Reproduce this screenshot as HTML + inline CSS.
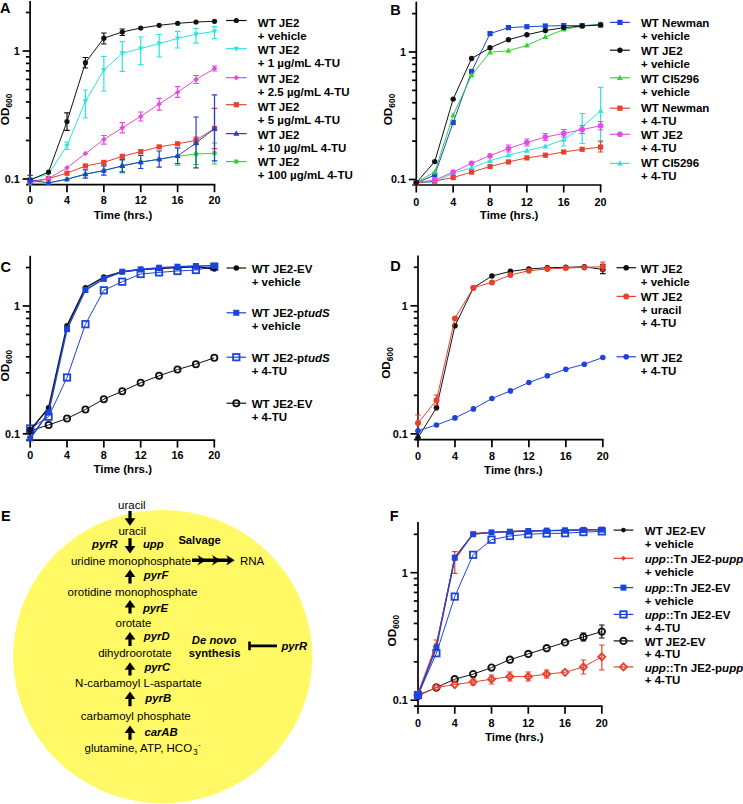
<!DOCTYPE html>
<html><head><meta charset="utf-8"><style>
html,body{margin:0;padding:0;background:#fff;width:743px;height:804px;overflow:hidden}
svg{display:block;font-family:"Liberation Sans", sans-serif}
text{fill:#000}
</style></head><body>
<svg width="743" height="804" viewBox="0 0 743 804">
<rect width="743" height="804" fill="#fff"/>
<line x1="30.1" y1="1" x2="30.1" y2="185.55" stroke="#000" stroke-width="1.7"/>
<line x1="26.1" y1="184.7" x2="215.35" y2="184.7" stroke="#000" stroke-width="1.7"/>
<line x1="22.6" y1="179" x2="30.1" y2="179" stroke="#000" stroke-width="1.7"/>
<line x1="25.9" y1="140.47" x2="30.1" y2="140.47" stroke="#000" stroke-width="1.7"/>
<line x1="25.9" y1="117.93" x2="30.1" y2="117.93" stroke="#000" stroke-width="1.7"/>
<line x1="25.9" y1="101.94" x2="30.1" y2="101.94" stroke="#000" stroke-width="1.7"/>
<line x1="25.9" y1="89.53" x2="30.1" y2="89.53" stroke="#000" stroke-width="1.7"/>
<line x1="25.9" y1="79.4" x2="30.1" y2="79.4" stroke="#000" stroke-width="1.7"/>
<line x1="25.9" y1="70.83" x2="30.1" y2="70.83" stroke="#000" stroke-width="1.7"/>
<line x1="25.9" y1="63.4" x2="30.1" y2="63.4" stroke="#000" stroke-width="1.7"/>
<line x1="25.9" y1="56.86" x2="30.1" y2="56.86" stroke="#000" stroke-width="1.7"/>
<line x1="22.6" y1="51" x2="30.1" y2="51" stroke="#000" stroke-width="1.7"/>
<line x1="25.9" y1="12.47" x2="30.1" y2="12.47" stroke="#000" stroke-width="1.7"/>
<line x1="30.1" y1="184.7" x2="30.1" y2="192.2" stroke="#000" stroke-width="1.7"/>
<text x="30.1" y="204.3" font-size="10.8" font-weight="bold" font-style="normal" text-anchor="middle" >0</text>
<line x1="66.98" y1="184.7" x2="66.98" y2="192.2" stroke="#000" stroke-width="1.7"/>
<text x="66.98" y="204.3" font-size="10.8" font-weight="bold" font-style="normal" text-anchor="middle" >4</text>
<line x1="103.86" y1="184.7" x2="103.86" y2="192.2" stroke="#000" stroke-width="1.7"/>
<text x="103.86" y="204.3" font-size="10.8" font-weight="bold" font-style="normal" text-anchor="middle" >8</text>
<line x1="140.74" y1="184.7" x2="140.74" y2="192.2" stroke="#000" stroke-width="1.7"/>
<text x="140.74" y="204.3" font-size="10.8" font-weight="bold" font-style="normal" text-anchor="middle" >12</text>
<line x1="177.62" y1="184.7" x2="177.62" y2="192.2" stroke="#000" stroke-width="1.7"/>
<text x="177.62" y="204.3" font-size="10.8" font-weight="bold" font-style="normal" text-anchor="middle" >16</text>
<line x1="214.5" y1="184.7" x2="214.5" y2="192.2" stroke="#000" stroke-width="1.7"/>
<text x="214.5" y="204.3" font-size="10.8" font-weight="bold" font-style="normal" text-anchor="middle" >20</text>
<text x="19.8" y="54.9" font-size="10.8" font-weight="bold" font-style="normal" text-anchor="end" >1</text>
<text x="19.8" y="182.9" font-size="10.8" font-weight="bold" font-style="normal" text-anchor="end" >0.1</text>
<text x="123" y="218.6" font-size="11.5" font-weight="bold" font-style="normal" text-anchor="middle" >Time (hrs.)</text>
<text transform="translate(8.5,109.4) rotate(-90)" font-size="11.8" font-weight="bold" text-anchor="middle">OD<tspan font-size="8.4" dy="3">600</tspan></text>
<text x="0" y="12.7" font-size="14.5" font-weight="bold" font-style="normal" text-anchor="start" >A</text>
<polyline points="30.1,183.5 48.54,183 66.98,179.4 85.42,174.3 103.86,170.7 122.3,166 140.74,162.2 159.18,159.4 177.62,156.1 196.06,154.1 214.5,153.2" fill="none" stroke="#2ed62e" stroke-width="1.0"/>
<path d="M122.3 160V172.8M119.55 160H125.05M119.55 172.8H125.05" stroke="#2ed62e" stroke-width="1.2" fill="none"/>
<path d="M177.62 148V165.1M174.87 148H180.37M174.87 165.1H180.37" stroke="#2ed62e" stroke-width="1.2" fill="none"/>
<path d="M196.06 143.8V164.5M193.31 143.8H198.81M193.31 164.5H198.81" stroke="#2ed62e" stroke-width="1.2" fill="none"/>
<path d="M214.5 143V164M211.75 143H217.25M211.75 164H217.25" stroke="#2ed62e" stroke-width="1.2" fill="none"/>
<circle cx="30.1" cy="183.5" r="2.4" fill="#2ed62e"/>
<circle cx="48.54" cy="183" r="2.4" fill="#2ed62e"/>
<circle cx="66.98" cy="179.4" r="2.4" fill="#2ed62e"/>
<circle cx="85.42" cy="174.3" r="2.4" fill="#2ed62e"/>
<circle cx="103.86" cy="170.7" r="2.4" fill="#2ed62e"/>
<circle cx="122.3" cy="166" r="2.4" fill="#2ed62e"/>
<circle cx="140.74" cy="162.2" r="2.4" fill="#2ed62e"/>
<circle cx="159.18" cy="159.4" r="2.4" fill="#2ed62e"/>
<circle cx="177.62" cy="156.1" r="2.4" fill="#2ed62e"/>
<circle cx="196.06" cy="154.1" r="2.4" fill="#2ed62e"/>
<circle cx="214.5" cy="153.2" r="2.4" fill="#2ed62e"/>
<polyline points="30.1,181.5 48.54,178.6 66.98,173.2 85.42,166 103.86,162.4 122.3,156.3 140.74,151.6 159.18,146.9 177.62,143.8 196.06,140.3 214.5,128.5" fill="none" stroke="#e8402e" stroke-width="1.0"/>
<path d="M214.5 108.3V148.7M211.75 108.3H217.25M211.75 148.7H217.25" stroke="#e8402e" stroke-width="1.2" fill="none"/>
<path d="M196.06 137V144M193.31 137H198.81M193.31 144H198.81" stroke="#e8402e" stroke-width="1.2" fill="none"/>
<rect x="27.5" y="178.9" width="5.2" height="5.2" fill="#e8402e"/>
<rect x="45.94" y="176" width="5.2" height="5.2" fill="#e8402e"/>
<rect x="64.38" y="170.6" width="5.2" height="5.2" fill="#e8402e"/>
<rect x="82.82" y="163.4" width="5.2" height="5.2" fill="#e8402e"/>
<rect x="101.26" y="159.8" width="5.2" height="5.2" fill="#e8402e"/>
<rect x="119.7" y="153.7" width="5.2" height="5.2" fill="#e8402e"/>
<rect x="138.14" y="149" width="5.2" height="5.2" fill="#e8402e"/>
<rect x="156.58" y="144.3" width="5.2" height="5.2" fill="#e8402e"/>
<rect x="175.02" y="141.2" width="5.2" height="5.2" fill="#e8402e"/>
<rect x="193.46" y="137.7" width="5.2" height="5.2" fill="#e8402e"/>
<rect x="211.9" y="125.9" width="5.2" height="5.2" fill="#e8402e"/>
<polyline points="30.1,183 48.54,178.5 66.98,167.8 85.42,153.6 103.86,139.5 122.3,127.8 140.74,116.4 159.18,104 177.62,92.2 196.06,79.4 214.5,68.6" fill="none" stroke="#e24ce2" stroke-width="1.0"/>
<path d="M103.86 135.5V144.2M101.11 135.5H106.61M101.11 144.2H106.61" stroke="#e24ce2" stroke-width="1.2" fill="none"/>
<path d="M122.3 122.7V132.8M119.55 122.7H125.05M119.55 132.8H125.05" stroke="#e24ce2" stroke-width="1.2" fill="none"/>
<path d="M140.74 112V121M137.99 112H143.49M137.99 121H143.49" stroke="#e24ce2" stroke-width="1.2" fill="none"/>
<path d="M159.18 98.4V110.2M156.43 98.4H161.93M156.43 110.2H161.93" stroke="#e24ce2" stroke-width="1.2" fill="none"/>
<path d="M177.62 86.7V97.3M174.87 86.7H180.37M174.87 97.3H180.37" stroke="#e24ce2" stroke-width="1.2" fill="none"/>
<path d="M196.06 75.5V83.5M193.31 75.5H198.81M193.31 83.5H198.81" stroke="#e24ce2" stroke-width="1.2" fill="none"/>
<path d="M214.5 66V71M211.75 66H217.25M211.75 71H217.25" stroke="#e24ce2" stroke-width="1.2" fill="none"/>
<polygon points="30.1,180.25 32.85,183 30.1,185.75 27.35,183" fill="#e24ce2"/>
<polygon points="48.54,175.75 51.29,178.5 48.54,181.25 45.79,178.5" fill="#e24ce2"/>
<polygon points="66.98,165.05 69.73,167.8 66.98,170.55 64.23,167.8" fill="#e24ce2"/>
<polygon points="85.42,150.85 88.17,153.6 85.42,156.35 82.67,153.6" fill="#e24ce2"/>
<polygon points="103.86,136.75 106.61,139.5 103.86,142.25 101.11,139.5" fill="#e24ce2"/>
<polygon points="122.3,125.05 125.05,127.8 122.3,130.55 119.55,127.8" fill="#e24ce2"/>
<polygon points="140.74,113.65 143.49,116.4 140.74,119.15 137.99,116.4" fill="#e24ce2"/>
<polygon points="159.18,101.25 161.93,104 159.18,106.75 156.43,104" fill="#e24ce2"/>
<polygon points="177.62,89.45 180.37,92.2 177.62,94.95 174.87,92.2" fill="#e24ce2"/>
<polygon points="196.06,76.65 198.81,79.4 196.06,82.15 193.31,79.4" fill="#e24ce2"/>
<polygon points="214.5,65.85 217.25,68.6 214.5,71.35 211.75,68.6" fill="#e24ce2"/>
<polyline points="30.1,179 48.54,174.3 66.98,145.7 85.42,101.3 103.86,70 122.3,53.3 140.74,48.5 159.18,43.6 177.62,38.4 196.06,34.2 214.5,31.4" fill="none" stroke="#2ee3e0" stroke-width="1.0"/>
<path d="M66.98 142V149.5M64.23 142H69.73M64.23 149.5H69.73" stroke="#2ee3e0" stroke-width="1.2" fill="none"/>
<path d="M85.42 90V118M82.67 90H88.17M82.67 118H88.17" stroke="#2ee3e0" stroke-width="1.2" fill="none"/>
<path d="M103.86 56.5V91M101.11 56.5H106.61M101.11 91H106.61" stroke="#2ee3e0" stroke-width="1.2" fill="none"/>
<path d="M122.3 41.7V71.3M119.55 41.7H125.05M119.55 71.3H125.05" stroke="#2ee3e0" stroke-width="1.2" fill="none"/>
<path d="M140.74 37V64.6M137.99 37H143.49M137.99 64.6H143.49" stroke="#2ee3e0" stroke-width="1.2" fill="none"/>
<path d="M159.18 34.5V57M156.43 34.5H161.93M156.43 57H161.93" stroke="#2ee3e0" stroke-width="1.2" fill="none"/>
<path d="M177.62 31.4V48M174.87 31.4H180.37M174.87 48H180.37" stroke="#2ee3e0" stroke-width="1.2" fill="none"/>
<path d="M196.06 28.4V43.1M193.31 28.4H198.81M193.31 43.1H198.81" stroke="#2ee3e0" stroke-width="1.2" fill="none"/>
<path d="M214.5 26.6V38.7M211.75 26.6H217.25M211.75 38.7H217.25" stroke="#2ee3e0" stroke-width="1.2" fill="none"/>
<polygon points="30.1,181.97 27.35,177.02 32.85,177.02" fill="#2ee3e0"/>
<polygon points="48.54,177.27 45.79,172.32 51.29,172.32" fill="#2ee3e0"/>
<polygon points="66.98,148.67 64.23,143.72 69.73,143.72" fill="#2ee3e0"/>
<polygon points="85.42,104.27 82.67,99.32 88.17,99.32" fill="#2ee3e0"/>
<polygon points="103.86,72.97 101.11,68.02 106.61,68.02" fill="#2ee3e0"/>
<polygon points="122.3,56.27 119.55,51.32 125.05,51.32" fill="#2ee3e0"/>
<polygon points="140.74,51.47 137.99,46.52 143.49,46.52" fill="#2ee3e0"/>
<polygon points="159.18,46.57 156.43,41.62 161.93,41.62" fill="#2ee3e0"/>
<polygon points="177.62,41.37 174.87,36.42 180.37,36.42" fill="#2ee3e0"/>
<polygon points="196.06,37.17 193.31,32.22 198.81,32.22" fill="#2ee3e0"/>
<polygon points="214.5,34.37 211.75,29.42 217.25,29.42" fill="#2ee3e0"/>
<polyline points="30.1,180 48.54,172.1 66.98,121.5 85.42,62.7 103.86,38.2 122.3,32 140.74,28 159.18,25.3 177.62,23.3 196.06,22 214.5,21.3" fill="none" stroke="#111111" stroke-width="1.0"/>
<path d="M66.98 112.9V130.4M64.23 112.9H69.73M64.23 130.4H69.73" stroke="#111111" stroke-width="1.2" fill="none"/>
<path d="M85.42 57.5V68M82.67 57.5H88.17M82.67 68H88.17" stroke="#111111" stroke-width="1.2" fill="none"/>
<path d="M103.86 33V44M101.11 33H106.61M101.11 44H106.61" stroke="#111111" stroke-width="1.2" fill="none"/>
<path d="M122.3 29V35.5M119.55 29H125.05M119.55 35.5H125.05" stroke="#111111" stroke-width="1.2" fill="none"/>
<circle cx="30.1" cy="180" r="2.6" fill="#111111"/>
<circle cx="48.54" cy="172.1" r="2.6" fill="#111111"/>
<circle cx="66.98" cy="121.5" r="2.6" fill="#111111"/>
<circle cx="85.42" cy="62.7" r="2.6" fill="#111111"/>
<circle cx="103.86" cy="38.2" r="2.6" fill="#111111"/>
<circle cx="122.3" cy="32" r="2.6" fill="#111111"/>
<circle cx="140.74" cy="28" r="2.6" fill="#111111"/>
<circle cx="159.18" cy="25.3" r="2.6" fill="#111111"/>
<circle cx="177.62" cy="23.3" r="2.6" fill="#111111"/>
<circle cx="196.06" cy="22" r="2.6" fill="#111111"/>
<circle cx="214.5" cy="21.3" r="2.6" fill="#111111"/>
<polyline points="30.1,180.1 48.54,182.8 66.98,179.2 85.42,174.1 103.86,170.5 122.3,165.8 140.74,162 159.18,159.2 177.62,155.9 196.06,143 214.5,128.5" fill="none" stroke="#2040d4" stroke-width="1.0"/>
<path d="M30.1 175.3V184M27.35 175.3H32.85M27.35 184H32.85" stroke="#2040d4" stroke-width="1.2" fill="none"/>
<path d="M85.42 169.8V178.1M82.67 169.8H88.17M82.67 178.1H88.17" stroke="#2040d4" stroke-width="1.2" fill="none"/>
<path d="M103.86 165.8V175.2M101.11 165.8H106.61M101.11 175.2H106.61" stroke="#2040d4" stroke-width="1.2" fill="none"/>
<path d="M122.3 159.7V171.8M119.55 159.7H125.05M119.55 171.8H125.05" stroke="#2040d4" stroke-width="1.2" fill="none"/>
<path d="M140.74 155.3V168.5M137.99 155.3H143.49M137.99 168.5H143.49" stroke="#2040d4" stroke-width="1.2" fill="none"/>
<path d="M159.18 151V167.2M156.43 151H161.93M156.43 167.2H161.93" stroke="#2040d4" stroke-width="1.2" fill="none"/>
<path d="M177.62 148V163.5M174.87 148H180.37M174.87 163.5H180.37" stroke="#2040d4" stroke-width="1.2" fill="none"/>
<path d="M196.06 117V167.8M193.31 117H198.81M193.31 167.8H198.81" stroke="#2040d4" stroke-width="1.2" fill="none"/>
<path d="M214.5 94.8V160.8M211.75 94.8H217.25M211.75 160.8H217.25" stroke="#2040d4" stroke-width="1.2" fill="none"/>
<polygon points="30.1,176.86 27.1,182.26 33.1,182.26" fill="#2040d4"/>
<polygon points="48.54,179.56 45.54,184.96 51.54,184.96" fill="#2040d4"/>
<polygon points="66.98,175.96 63.98,181.36 69.98,181.36" fill="#2040d4"/>
<polygon points="85.42,170.86 82.42,176.26 88.42,176.26" fill="#2040d4"/>
<polygon points="103.86,167.26 100.86,172.66 106.86,172.66" fill="#2040d4"/>
<polygon points="122.3,162.56 119.3,167.96 125.3,167.96" fill="#2040d4"/>
<polygon points="140.74,158.76 137.74,164.16 143.74,164.16" fill="#2040d4"/>
<polygon points="159.18,155.96 156.18,161.36 162.18,161.36" fill="#2040d4"/>
<polygon points="177.62,152.66 174.62,158.06 180.62,158.06" fill="#2040d4"/>
<polygon points="196.06,139.76 193.06,145.16 199.06,145.16" fill="#2040d4"/>
<polygon points="214.5,125.26 211.5,130.66 217.5,130.66" fill="#2040d4"/>
<line x1="226" y1="20.5" x2="246.6" y2="20.5" stroke="#111111" stroke-width="1.2"/>
<circle cx="236.3" cy="20.5" r="2.6" fill="#111111"/>
<text x="257.8" y="26.7" font-size="11.5" font-weight="bold">WT JE2</text>
<text x="257.8" y="39.7" font-size="11.5" font-weight="bold">+ vehicle</text>
<line x1="226" y1="48.7" x2="246.6" y2="48.7" stroke="#2ee3e0" stroke-width="1.2"/>
<polygon points="236.3,51.67 233.55,46.72 239.05,46.72" fill="#2ee3e0"/>
<text x="257.8" y="54.3" font-size="11.5" font-weight="bold">WT JE2</text>
<text x="257.8" y="67.3" font-size="11.5" font-weight="bold">+ 1 µg/mL 4-TU</text>
<line x1="226" y1="77.7" x2="246.6" y2="77.7" stroke="#e24ce2" stroke-width="1.2"/>
<polygon points="236.3,74.95 239.05,77.7 236.3,80.45 233.55,77.7" fill="#e24ce2"/>
<text x="257.8" y="83.4" font-size="11.5" font-weight="bold">WT JE2</text>
<text x="257.8" y="96.4" font-size="11.5" font-weight="bold">+ 2.5 µg/mL 4-TU</text>
<line x1="226" y1="104.7" x2="246.6" y2="104.7" stroke="#e8402e" stroke-width="1.2"/>
<rect x="233.7" y="102.1" width="5.2" height="5.2" fill="#e8402e"/>
<text x="257.8" y="111" font-size="11.5" font-weight="bold">WT JE2</text>
<text x="257.8" y="124" font-size="11.5" font-weight="bold">+ 5 µg/mL 4-TU</text>
<line x1="226" y1="133.6" x2="246.6" y2="133.6" stroke="#2040d4" stroke-width="1.2"/>
<polygon points="236.3,130.36 233.3,135.76 239.3,135.76" fill="#2040d4"/>
<text x="257.8" y="139.2" font-size="11.5" font-weight="bold">WT JE2</text>
<text x="257.8" y="152.2" font-size="11.5" font-weight="bold">+ 10 µg/mL 4-TU</text>
<line x1="226" y1="161.6" x2="246.6" y2="161.6" stroke="#2ed62e" stroke-width="1.2"/>
<circle cx="236.3" cy="161.6" r="2.4" fill="#2ed62e"/>
<text x="257.8" y="166.2" font-size="11.5" font-weight="bold">WT JE2</text>
<text x="257.8" y="179.2" font-size="11.5" font-weight="bold">+ 100 µg/mL 4-TU</text>
<line x1="416.3" y1="1.6" x2="416.3" y2="185.85" stroke="#000" stroke-width="1.7"/>
<line x1="412.3" y1="185" x2="601.45" y2="185" stroke="#000" stroke-width="1.7"/>
<line x1="408.8" y1="179.5" x2="416.3" y2="179.5" stroke="#000" stroke-width="1.7"/>
<line x1="412.1" y1="141.12" x2="416.3" y2="141.12" stroke="#000" stroke-width="1.7"/>
<line x1="412.1" y1="118.67" x2="416.3" y2="118.67" stroke="#000" stroke-width="1.7"/>
<line x1="412.1" y1="102.74" x2="416.3" y2="102.74" stroke="#000" stroke-width="1.7"/>
<line x1="412.1" y1="90.38" x2="416.3" y2="90.38" stroke="#000" stroke-width="1.7"/>
<line x1="412.1" y1="80.29" x2="416.3" y2="80.29" stroke="#000" stroke-width="1.7"/>
<line x1="412.1" y1="71.75" x2="416.3" y2="71.75" stroke="#000" stroke-width="1.7"/>
<line x1="412.1" y1="64.36" x2="416.3" y2="64.36" stroke="#000" stroke-width="1.7"/>
<line x1="412.1" y1="57.83" x2="416.3" y2="57.83" stroke="#000" stroke-width="1.7"/>
<line x1="408.8" y1="52" x2="416.3" y2="52" stroke="#000" stroke-width="1.7"/>
<line x1="412.1" y1="13.62" x2="416.3" y2="13.62" stroke="#000" stroke-width="1.7"/>
<line x1="416.3" y1="185" x2="416.3" y2="192.5" stroke="#000" stroke-width="1.7"/>
<text x="416.3" y="206" font-size="10.8" font-weight="bold" font-style="normal" text-anchor="middle" >0</text>
<line x1="453.16" y1="185" x2="453.16" y2="192.5" stroke="#000" stroke-width="1.7"/>
<text x="453.16" y="206" font-size="10.8" font-weight="bold" font-style="normal" text-anchor="middle" >4</text>
<line x1="490.02" y1="185" x2="490.02" y2="192.5" stroke="#000" stroke-width="1.7"/>
<text x="490.02" y="206" font-size="10.8" font-weight="bold" font-style="normal" text-anchor="middle" >8</text>
<line x1="526.88" y1="185" x2="526.88" y2="192.5" stroke="#000" stroke-width="1.7"/>
<text x="526.88" y="206" font-size="10.8" font-weight="bold" font-style="normal" text-anchor="middle" >12</text>
<line x1="563.74" y1="185" x2="563.74" y2="192.5" stroke="#000" stroke-width="1.7"/>
<text x="563.74" y="206" font-size="10.8" font-weight="bold" font-style="normal" text-anchor="middle" >16</text>
<line x1="600.6" y1="185" x2="600.6" y2="192.5" stroke="#000" stroke-width="1.7"/>
<text x="600.6" y="206" font-size="10.8" font-weight="bold" font-style="normal" text-anchor="middle" >20</text>
<text x="406" y="55.9" font-size="10.8" font-weight="bold" font-style="normal" text-anchor="end" >1</text>
<text x="406" y="183.4" font-size="10.8" font-weight="bold" font-style="normal" text-anchor="end" >0.1</text>
<text x="509.15" y="219.2" font-size="11.5" font-weight="bold" font-style="normal" text-anchor="middle" >Time (hrs.)</text>
<text transform="translate(392,109.5) rotate(-90)" font-size="11.8" font-weight="bold" text-anchor="middle">OD<tspan font-size="8.4" dy="3">600</tspan></text>
<text x="390.3" y="14.5" font-size="14.5" font-weight="bold" font-style="normal" text-anchor="start" >B</text>
<polyline points="416.3,183 434.73,175 453.16,122.5 471.59,71.5 490.02,33.6 508.45,27.6 526.88,26.7 545.31,26 563.74,25.6 582.17,25.6 600.6,24.9" fill="none" stroke="#1c44dc" stroke-width="1.0"/>
<rect x="413.7" y="180.4" width="5.2" height="5.2" fill="#1c44dc"/>
<rect x="432.13" y="172.4" width="5.2" height="5.2" fill="#1c44dc"/>
<rect x="450.56" y="119.9" width="5.2" height="5.2" fill="#1c44dc"/>
<rect x="468.99" y="68.9" width="5.2" height="5.2" fill="#1c44dc"/>
<rect x="487.42" y="31" width="5.2" height="5.2" fill="#1c44dc"/>
<rect x="505.85" y="25" width="5.2" height="5.2" fill="#1c44dc"/>
<rect x="524.28" y="24.1" width="5.2" height="5.2" fill="#1c44dc"/>
<rect x="542.71" y="23.4" width="5.2" height="5.2" fill="#1c44dc"/>
<rect x="561.14" y="23" width="5.2" height="5.2" fill="#1c44dc"/>
<rect x="579.57" y="23" width="5.2" height="5.2" fill="#1c44dc"/>
<rect x="598" y="22.3" width="5.2" height="5.2" fill="#1c44dc"/>
<polyline points="416.3,183 434.73,181.9 453.16,173.2 471.59,167.8 490.02,160.8 508.45,155.2 526.88,150.6 545.31,146.3 563.74,139.6 582.17,126.9 600.6,110.8" fill="none" stroke="#2ee3e0" stroke-width="1.0"/>
<path d="M563.74 134V146M560.99 134H566.49M560.99 146H566.49" stroke="#2ee3e0" stroke-width="1.2" fill="none"/>
<path d="M582.17 113.5V143.5M579.42 113.5H584.92M579.42 143.5H584.92" stroke="#2ee3e0" stroke-width="1.2" fill="none"/>
<path d="M600.6 87.4V141.9M597.85 87.4H603.35M597.85 141.9H603.35" stroke="#2ee3e0" stroke-width="1.2" fill="none"/>
<polygon points="416.3,179.87 413.4,185.09 419.2,185.09" fill="#2ee3e0"/>
<polygon points="434.73,178.77 431.83,183.99 437.63,183.99" fill="#2ee3e0"/>
<polygon points="453.16,170.07 450.26,175.29 456.06,175.29" fill="#2ee3e0"/>
<polygon points="471.59,164.67 468.69,169.89 474.49,169.89" fill="#2ee3e0"/>
<polygon points="490.02,157.67 487.12,162.89 492.92,162.89" fill="#2ee3e0"/>
<polygon points="508.45,152.07 505.55,157.29 511.35,157.29" fill="#2ee3e0"/>
<polygon points="526.88,147.47 523.98,152.69 529.78,152.69" fill="#2ee3e0"/>
<polygon points="545.31,143.17 542.41,148.39 548.21,148.39" fill="#2ee3e0"/>
<polygon points="563.74,136.47 560.84,141.69 566.64,141.69" fill="#2ee3e0"/>
<polygon points="582.17,123.77 579.27,128.99 585.07,128.99" fill="#2ee3e0"/>
<polygon points="600.6,107.67 597.7,112.89 603.5,112.89" fill="#2ee3e0"/>
<polyline points="416.3,183 434.73,181 453.16,177.5 471.59,172.1 490.02,166.5 508.45,161.9 526.88,157.9 545.31,155.2 563.74,152 582.17,149.3 600.6,147.1" fill="none" stroke="#e8402e" stroke-width="1.0"/>
<path d="M600.6 141V152M597.85 141H603.35M597.85 152H603.35" stroke="#e8402e" stroke-width="1.2" fill="none"/>
<rect x="413.7" y="180.4" width="5.2" height="5.2" fill="#e8402e"/>
<rect x="432.13" y="178.4" width="5.2" height="5.2" fill="#e8402e"/>
<rect x="450.56" y="174.9" width="5.2" height="5.2" fill="#e8402e"/>
<rect x="468.99" y="169.5" width="5.2" height="5.2" fill="#e8402e"/>
<rect x="487.42" y="163.9" width="5.2" height="5.2" fill="#e8402e"/>
<rect x="505.85" y="159.3" width="5.2" height="5.2" fill="#e8402e"/>
<rect x="524.28" y="155.3" width="5.2" height="5.2" fill="#e8402e"/>
<rect x="542.71" y="152.6" width="5.2" height="5.2" fill="#e8402e"/>
<rect x="561.14" y="149.4" width="5.2" height="5.2" fill="#e8402e"/>
<rect x="579.57" y="146.7" width="5.2" height="5.2" fill="#e8402e"/>
<rect x="598" y="144.5" width="5.2" height="5.2" fill="#e8402e"/>
<polyline points="416.3,182.5 434.73,180.1 453.16,172.1 471.59,163.3 490.02,155.7 508.45,148.5 526.88,142.5 545.31,137.1 563.74,133.4 582.17,129.6 600.6,125.8" fill="none" stroke="#e24ce2" stroke-width="1.0"/>
<path d="M508.45 145V152M505.7 145H511.2M505.7 152H511.2" stroke="#e24ce2" stroke-width="1.2" fill="none"/>
<path d="M526.88 139V146M524.13 139H529.63M524.13 146H529.63" stroke="#e24ce2" stroke-width="1.2" fill="none"/>
<path d="M545.31 133.5V140.5M542.56 133.5H548.06M542.56 140.5H548.06" stroke="#e24ce2" stroke-width="1.2" fill="none"/>
<path d="M563.74 129.5V137M560.99 129.5H566.49M560.99 137H566.49" stroke="#e24ce2" stroke-width="1.2" fill="none"/>
<path d="M582.17 125.5V133.5M579.42 125.5H584.92M579.42 133.5H584.92" stroke="#e24ce2" stroke-width="1.2" fill="none"/>
<path d="M600.6 121.5V130M597.85 121.5H603.35M597.85 130H603.35" stroke="#e24ce2" stroke-width="1.2" fill="none"/>
<circle cx="416.3" cy="182.5" r="2.8" fill="#e24ce2"/>
<circle cx="434.73" cy="180.1" r="2.8" fill="#e24ce2"/>
<circle cx="453.16" cy="172.1" r="2.8" fill="#e24ce2"/>
<circle cx="471.59" cy="163.3" r="2.8" fill="#e24ce2"/>
<circle cx="490.02" cy="155.7" r="2.8" fill="#e24ce2"/>
<circle cx="508.45" cy="148.5" r="2.8" fill="#e24ce2"/>
<circle cx="526.88" cy="142.5" r="2.8" fill="#e24ce2"/>
<circle cx="545.31" cy="137.1" r="2.8" fill="#e24ce2"/>
<circle cx="563.74" cy="133.4" r="2.8" fill="#e24ce2"/>
<circle cx="582.17" cy="129.6" r="2.8" fill="#e24ce2"/>
<circle cx="600.6" cy="125.8" r="2.8" fill="#e24ce2"/>
<polyline points="416.3,182.5 434.73,172.1 453.16,115.2 471.59,75.1 490.02,52.3 508.45,50.7 526.88,45.5 545.31,37 563.74,29.5 582.17,26 600.6,24.2" fill="none" stroke="#2ed62e" stroke-width="1.0"/>
<polygon points="416.3,179.37 413.4,184.59 419.2,184.59" fill="#2ed62e"/>
<polygon points="434.73,168.97 431.83,174.19 437.63,174.19" fill="#2ed62e"/>
<polygon points="453.16,112.07 450.26,117.29 456.06,117.29" fill="#2ed62e"/>
<polygon points="471.59,71.97 468.69,77.19 474.49,77.19" fill="#2ed62e"/>
<polygon points="490.02,49.17 487.12,54.39 492.92,54.39" fill="#2ed62e"/>
<polygon points="508.45,47.57 505.55,52.79 511.35,52.79" fill="#2ed62e"/>
<polygon points="526.88,42.37 523.98,47.59 529.78,47.59" fill="#2ed62e"/>
<polygon points="545.31,33.87 542.41,39.09 548.21,39.09" fill="#2ed62e"/>
<polygon points="563.74,26.37 560.84,31.59 566.64,31.59" fill="#2ed62e"/>
<polygon points="582.17,22.87 579.27,28.09 585.07,28.09" fill="#2ed62e"/>
<polygon points="600.6,21.07 597.7,26.29 603.5,26.29" fill="#2ed62e"/>
<polyline points="416.3,182.8 434.73,161.6 453.16,99.1 471.59,58.5 490.02,47.8 508.45,39.7 526.88,34.7 545.31,30.6 563.74,27.6 582.17,26 600.6,24.9" fill="none" stroke="#111111" stroke-width="1.0"/>
<circle cx="416.3" cy="182.8" r="2.7" fill="#111111"/>
<circle cx="434.73" cy="161.6" r="2.7" fill="#111111"/>
<circle cx="453.16" cy="99.1" r="2.7" fill="#111111"/>
<circle cx="471.59" cy="58.5" r="2.7" fill="#111111"/>
<circle cx="490.02" cy="47.8" r="2.7" fill="#111111"/>
<circle cx="508.45" cy="39.7" r="2.7" fill="#111111"/>
<circle cx="526.88" cy="34.7" r="2.7" fill="#111111"/>
<circle cx="545.31" cy="30.6" r="2.7" fill="#111111"/>
<circle cx="563.74" cy="27.6" r="2.7" fill="#111111"/>
<circle cx="582.17" cy="26" r="2.7" fill="#111111"/>
<circle cx="600.6" cy="24.9" r="2.7" fill="#111111"/>
<line x1="610" y1="22.4" x2="629.8" y2="22.4" stroke="#1c44dc" stroke-width="1.2"/>
<rect x="617.3" y="19.8" width="5.2" height="5.2" fill="#1c44dc"/>
<text x="641" y="26.6" font-size="11.5" font-weight="bold">WT Newman</text>
<text x="641" y="39.6" font-size="11.5" font-weight="bold">+ vehicle</text>
<line x1="610" y1="50.2" x2="629.8" y2="50.2" stroke="#111111" stroke-width="1.2"/>
<circle cx="619.9" cy="50.2" r="2.7" fill="#111111"/>
<text x="641" y="54.7" font-size="11.5" font-weight="bold">WT JE2</text>
<text x="641" y="67.7" font-size="11.5" font-weight="bold">+ vehicle</text>
<line x1="610" y1="77.8" x2="629.8" y2="77.8" stroke="#2ed62e" stroke-width="1.2"/>
<polygon points="619.9,74.67 617,79.89 622.8,79.89" fill="#2ed62e"/>
<text x="641" y="82.6" font-size="11.5" font-weight="bold">WT CI5296</text>
<text x="641" y="95.6" font-size="11.5" font-weight="bold">+ vehicle</text>
<line x1="610" y1="108.2" x2="629.8" y2="108.2" stroke="#e8402e" stroke-width="1.2"/>
<rect x="617.3" y="105.6" width="5.2" height="5.2" fill="#e8402e"/>
<text x="641" y="112.4" font-size="11.5" font-weight="bold">WT Newman</text>
<text x="641" y="125.4" font-size="11.5" font-weight="bold">+ 4-TU</text>
<line x1="610" y1="134.3" x2="629.8" y2="134.3" stroke="#e24ce2" stroke-width="1.2"/>
<circle cx="619.9" cy="134.3" r="2.8" fill="#e24ce2"/>
<text x="641" y="138.5" font-size="11.5" font-weight="bold">WT JE2</text>
<text x="641" y="151.5" font-size="11.5" font-weight="bold">+ 4-TU</text>
<line x1="610" y1="163.4" x2="629.8" y2="163.4" stroke="#2ee3e0" stroke-width="1.2"/>
<polygon points="619.9,160.27 617,165.49 622.8,165.49" fill="#2ee3e0"/>
<text x="641" y="167.1" font-size="11.5" font-weight="bold">WT CI5296</text>
<text x="641" y="180.1" font-size="11.5" font-weight="bold">+ 4-TU</text>
<line x1="30.2" y1="255.8" x2="30.2" y2="440.95" stroke="#000" stroke-width="1.7"/>
<line x1="26.2" y1="440.1" x2="215.15" y2="440.1" stroke="#000" stroke-width="1.7"/>
<line x1="22.7" y1="433.8" x2="30.2" y2="433.8" stroke="#000" stroke-width="1.7"/>
<line x1="26" y1="395.33" x2="30.2" y2="395.33" stroke="#000" stroke-width="1.7"/>
<line x1="26" y1="372.82" x2="30.2" y2="372.82" stroke="#000" stroke-width="1.7"/>
<line x1="26" y1="356.86" x2="30.2" y2="356.86" stroke="#000" stroke-width="1.7"/>
<line x1="26" y1="344.47" x2="30.2" y2="344.47" stroke="#000" stroke-width="1.7"/>
<line x1="26" y1="334.35" x2="30.2" y2="334.35" stroke="#000" stroke-width="1.7"/>
<line x1="26" y1="325.8" x2="30.2" y2="325.8" stroke="#000" stroke-width="1.7"/>
<line x1="26" y1="318.39" x2="30.2" y2="318.39" stroke="#000" stroke-width="1.7"/>
<line x1="26" y1="311.85" x2="30.2" y2="311.85" stroke="#000" stroke-width="1.7"/>
<line x1="22.7" y1="306" x2="30.2" y2="306" stroke="#000" stroke-width="1.7"/>
<line x1="26" y1="267.53" x2="30.2" y2="267.53" stroke="#000" stroke-width="1.7"/>
<line x1="30.2" y1="440.1" x2="30.2" y2="447.6" stroke="#000" stroke-width="1.7"/>
<text x="30.2" y="458.7" font-size="10.8" font-weight="bold" font-style="normal" text-anchor="middle" >0</text>
<line x1="67.02" y1="440.1" x2="67.02" y2="447.6" stroke="#000" stroke-width="1.7"/>
<text x="67.02" y="458.7" font-size="10.8" font-weight="bold" font-style="normal" text-anchor="middle" >4</text>
<line x1="103.84" y1="440.1" x2="103.84" y2="447.6" stroke="#000" stroke-width="1.7"/>
<text x="103.84" y="458.7" font-size="10.8" font-weight="bold" font-style="normal" text-anchor="middle" >8</text>
<line x1="140.66" y1="440.1" x2="140.66" y2="447.6" stroke="#000" stroke-width="1.7"/>
<text x="140.66" y="458.7" font-size="10.8" font-weight="bold" font-style="normal" text-anchor="middle" >12</text>
<line x1="177.48" y1="440.1" x2="177.48" y2="447.6" stroke="#000" stroke-width="1.7"/>
<text x="177.48" y="458.7" font-size="10.8" font-weight="bold" font-style="normal" text-anchor="middle" >16</text>
<line x1="214.3" y1="440.1" x2="214.3" y2="447.6" stroke="#000" stroke-width="1.7"/>
<text x="214.3" y="458.7" font-size="10.8" font-weight="bold" font-style="normal" text-anchor="middle" >20</text>
<text x="19.9" y="309.9" font-size="10.8" font-weight="bold" font-style="normal" text-anchor="end" >1</text>
<text x="19.9" y="437.7" font-size="10.8" font-weight="bold" font-style="normal" text-anchor="end" >0.1</text>
<text x="122.75" y="473.3" font-size="11.5" font-weight="bold" font-style="normal" text-anchor="middle" >Time (hrs.)</text>
<text transform="translate(8.5,365.6) rotate(-90)" font-size="11.8" font-weight="bold" text-anchor="middle">OD<tspan font-size="8.4" dy="3">600</tspan></text>
<text x="0.5" y="272.2" font-size="14.5" font-weight="bold" font-style="normal" text-anchor="start" >C</text>
<polyline points="30.2,430.7 48.61,425 67.02,418.5 85.43,409.5 103.84,399.2 122.25,391.2 140.66,382.8 159.07,375.8 177.48,369.5 195.89,364.2 214.3,357.8" fill="none" stroke="#111111" stroke-width="1.0"/>
<circle cx="30.2" cy="430.7" r="3.1" fill="none" stroke="#111111" stroke-width="1.8"/>
<circle cx="48.61" cy="425" r="3.1" fill="none" stroke="#111111" stroke-width="1.8"/>
<circle cx="67.02" cy="418.5" r="3.1" fill="none" stroke="#111111" stroke-width="1.8"/>
<circle cx="85.43" cy="409.5" r="3.1" fill="none" stroke="#111111" stroke-width="1.8"/>
<circle cx="103.84" cy="399.2" r="3.1" fill="none" stroke="#111111" stroke-width="1.8"/>
<circle cx="122.25" cy="391.2" r="3.1" fill="none" stroke="#111111" stroke-width="1.8"/>
<circle cx="140.66" cy="382.8" r="3.1" fill="none" stroke="#111111" stroke-width="1.8"/>
<circle cx="159.07" cy="375.8" r="3.1" fill="none" stroke="#111111" stroke-width="1.8"/>
<circle cx="177.48" cy="369.5" r="3.1" fill="none" stroke="#111111" stroke-width="1.8"/>
<circle cx="195.89" cy="364.2" r="3.1" fill="none" stroke="#111111" stroke-width="1.8"/>
<circle cx="214.3" cy="357.8" r="3.1" fill="none" stroke="#111111" stroke-width="1.8"/>
<polyline points="30.2,428.5 48.61,416.7 67.02,377.5 85.43,324.2 103.84,290.3 122.25,281.7 140.66,274 159.07,272.4 177.48,271 195.89,270 214.3,266.7" fill="none" stroke="#1c44dc" stroke-width="1.0"/>
<rect x="27" y="425.3" width="6.4" height="6.4" fill="none" stroke="#1c44dc" stroke-width="1.8"/>
<rect x="45.41" y="413.5" width="6.4" height="6.4" fill="none" stroke="#1c44dc" stroke-width="1.8"/>
<rect x="63.82" y="374.3" width="6.4" height="6.4" fill="none" stroke="#1c44dc" stroke-width="1.8"/>
<rect x="82.23" y="321" width="6.4" height="6.4" fill="none" stroke="#1c44dc" stroke-width="1.8"/>
<rect x="100.64" y="287.1" width="6.4" height="6.4" fill="none" stroke="#1c44dc" stroke-width="1.8"/>
<rect x="119.05" y="278.5" width="6.4" height="6.4" fill="none" stroke="#1c44dc" stroke-width="1.8"/>
<rect x="137.46" y="270.8" width="6.4" height="6.4" fill="none" stroke="#1c44dc" stroke-width="1.8"/>
<rect x="155.87" y="269.2" width="6.4" height="6.4" fill="none" stroke="#1c44dc" stroke-width="1.8"/>
<rect x="174.28" y="267.8" width="6.4" height="6.4" fill="none" stroke="#1c44dc" stroke-width="1.8"/>
<rect x="192.69" y="266.8" width="6.4" height="6.4" fill="none" stroke="#1c44dc" stroke-width="1.8"/>
<rect x="211.1" y="263.5" width="6.4" height="6.4" fill="none" stroke="#1c44dc" stroke-width="1.8"/>
<polyline points="30.2,430.2 48.61,407.9 67.02,325.8 85.43,287.7 103.84,277.1 122.25,271.7 140.66,269.4 159.07,268.4 177.48,267.4 195.89,266.7 214.3,269" fill="none" stroke="#111111" stroke-width="1.5"/>
<circle cx="30.2" cy="430.2" r="2.8" fill="#111111"/>
<circle cx="48.61" cy="407.9" r="2.8" fill="#111111"/>
<circle cx="67.02" cy="325.8" r="2.8" fill="#111111"/>
<circle cx="85.43" cy="287.7" r="2.8" fill="#111111"/>
<circle cx="103.84" cy="277.1" r="2.8" fill="#111111"/>
<circle cx="122.25" cy="271.7" r="2.8" fill="#111111"/>
<circle cx="140.66" cy="269.4" r="2.8" fill="#111111"/>
<circle cx="159.07" cy="268.4" r="2.8" fill="#111111"/>
<circle cx="177.48" cy="267.4" r="2.8" fill="#111111"/>
<circle cx="195.89" cy="266.7" r="2.8" fill="#111111"/>
<circle cx="214.3" cy="269" r="2.8" fill="#111111"/>
<polyline points="30.2,438.5 48.61,412.5 67.02,329.2 85.43,290 103.84,278.9 122.25,271.7 140.66,269.4 159.07,267.7 177.48,266.7 195.89,266 214.3,265.7" fill="none" stroke="#1c44dc" stroke-width="1.5"/>
<rect x="27.2" y="435.5" width="6" height="6" fill="#1c44dc"/>
<rect x="45.61" y="409.5" width="6" height="6" fill="#1c44dc"/>
<rect x="64.02" y="326.2" width="6" height="6" fill="#1c44dc"/>
<rect x="82.43" y="287" width="6" height="6" fill="#1c44dc"/>
<rect x="100.84" y="275.9" width="6" height="6" fill="#1c44dc"/>
<rect x="119.25" y="268.7" width="6" height="6" fill="#1c44dc"/>
<rect x="137.66" y="266.4" width="6" height="6" fill="#1c44dc"/>
<rect x="156.07" y="264.7" width="6" height="6" fill="#1c44dc"/>
<rect x="174.48" y="263.7" width="6" height="6" fill="#1c44dc"/>
<rect x="192.89" y="263" width="6" height="6" fill="#1c44dc"/>
<rect x="211.3" y="262.7" width="6" height="6" fill="#1c44dc"/>
<line x1="226.5" y1="268" x2="246.1" y2="268" stroke="#111111" stroke-width="1.2"/>
<circle cx="236.3" cy="268" r="2.8" fill="#111111"/>
<text x="251.7" y="272.9" font-size="11.5" font-weight="bold">WT JE2-EV</text>
<text x="251.7" y="285.7" font-size="11.5" font-weight="bold">+ vehicle</text>
<line x1="226.5" y1="312.8" x2="246.1" y2="312.8" stroke="#1c44dc" stroke-width="1.2"/>
<rect x="233.3" y="309.8" width="6" height="6" fill="#1c44dc"/>
<text x="251.7" y="317.3" font-size="11.5" font-weight="bold">WT JE2-p<tspan font-style="italic">tudS</tspan></text>
<text x="251.7" y="330.1" font-size="11.5" font-weight="bold">+ vehicle</text>
<line x1="226.5" y1="357.2" x2="246.1" y2="357.2" stroke="#1c44dc" stroke-width="1.2"/>
<rect x="233.1" y="354" width="6.4" height="6.4" fill="none" stroke="#1c44dc" stroke-width="1.8"/>
<text x="251.7" y="361.8" font-size="11.5" font-weight="bold">WT JE2-p<tspan font-style="italic">tudS</tspan></text>
<text x="251.7" y="374.6" font-size="11.5" font-weight="bold">+ 4-TU</text>
<line x1="226.5" y1="403.2" x2="246.1" y2="403.2" stroke="#111111" stroke-width="1.2"/>
<circle cx="236.3" cy="403.2" r="3.1" fill="none" stroke="#111111" stroke-width="1.8"/>
<text x="251.7" y="408.1" font-size="11.5" font-weight="bold">WT JE2-EV</text>
<text x="251.7" y="420.9" font-size="11.5" font-weight="bold">+ 4-TU</text>
<line x1="418" y1="255.4" x2="418" y2="440.55" stroke="#000" stroke-width="1.7"/>
<line x1="414" y1="439.7" x2="603.65" y2="439.7" stroke="#000" stroke-width="1.7"/>
<line x1="410.5" y1="433.9" x2="418" y2="433.9" stroke="#000" stroke-width="1.7"/>
<line x1="413.8" y1="395.34" x2="418" y2="395.34" stroke="#000" stroke-width="1.7"/>
<line x1="413.8" y1="372.78" x2="418" y2="372.78" stroke="#000" stroke-width="1.7"/>
<line x1="413.8" y1="356.78" x2="418" y2="356.78" stroke="#000" stroke-width="1.7"/>
<line x1="413.8" y1="344.36" x2="418" y2="344.36" stroke="#000" stroke-width="1.7"/>
<line x1="413.8" y1="334.22" x2="418" y2="334.22" stroke="#000" stroke-width="1.7"/>
<line x1="413.8" y1="325.64" x2="418" y2="325.64" stroke="#000" stroke-width="1.7"/>
<line x1="413.8" y1="318.21" x2="418" y2="318.21" stroke="#000" stroke-width="1.7"/>
<line x1="413.8" y1="311.66" x2="418" y2="311.66" stroke="#000" stroke-width="1.7"/>
<line x1="410.5" y1="305.8" x2="418" y2="305.8" stroke="#000" stroke-width="1.7"/>
<line x1="413.8" y1="267.24" x2="418" y2="267.24" stroke="#000" stroke-width="1.7"/>
<line x1="418" y1="439.7" x2="418" y2="447.2" stroke="#000" stroke-width="1.7"/>
<text x="418" y="459.5" font-size="10.8" font-weight="bold" font-style="normal" text-anchor="middle" >0</text>
<line x1="454.96" y1="439.7" x2="454.96" y2="447.2" stroke="#000" stroke-width="1.7"/>
<text x="454.96" y="459.5" font-size="10.8" font-weight="bold" font-style="normal" text-anchor="middle" >4</text>
<line x1="491.92" y1="439.7" x2="491.92" y2="447.2" stroke="#000" stroke-width="1.7"/>
<text x="491.92" y="459.5" font-size="10.8" font-weight="bold" font-style="normal" text-anchor="middle" >8</text>
<line x1="528.88" y1="439.7" x2="528.88" y2="447.2" stroke="#000" stroke-width="1.7"/>
<text x="528.88" y="459.5" font-size="10.8" font-weight="bold" font-style="normal" text-anchor="middle" >12</text>
<line x1="565.84" y1="439.7" x2="565.84" y2="447.2" stroke="#000" stroke-width="1.7"/>
<text x="565.84" y="459.5" font-size="10.8" font-weight="bold" font-style="normal" text-anchor="middle" >16</text>
<line x1="602.8" y1="439.7" x2="602.8" y2="447.2" stroke="#000" stroke-width="1.7"/>
<text x="602.8" y="459.5" font-size="10.8" font-weight="bold" font-style="normal" text-anchor="middle" >20</text>
<text x="407.7" y="309.7" font-size="10.8" font-weight="bold" font-style="normal" text-anchor="end" >1</text>
<text x="407.7" y="437.8" font-size="10.8" font-weight="bold" font-style="normal" text-anchor="end" >0.1</text>
<text x="513.4" y="473.5" font-size="11.5" font-weight="bold" font-style="normal" text-anchor="middle" >Time (hrs.)</text>
<text transform="translate(390.3,363) rotate(-90)" font-size="11.8" font-weight="bold" text-anchor="middle">OD<tspan font-size="8.4" dy="3">600</tspan></text>
<text x="390.3" y="271" font-size="14.5" font-weight="bold" font-style="normal" text-anchor="start" >D</text>
<polyline points="418,437.7 436.48,407.8 454.96,325.8 473.44,287.7 491.92,276 510.4,271.4 528.88,269 547.36,267.7 565.84,267.4 584.32,266.7 602.8,269.5" fill="none" stroke="#111111" stroke-width="1.0"/>
<path d="M602.8 264.4V273.6M600.05 264.4H605.55M600.05 273.6H605.55" stroke="#111111" stroke-width="1.2" fill="none"/>
<circle cx="418" cy="437.7" r="2.8" fill="#111111"/>
<circle cx="436.48" cy="407.8" r="2.8" fill="#111111"/>
<circle cx="454.96" cy="325.8" r="2.8" fill="#111111"/>
<circle cx="473.44" cy="287.7" r="2.8" fill="#111111"/>
<circle cx="491.92" cy="276" r="2.8" fill="#111111"/>
<circle cx="510.4" cy="271.4" r="2.8" fill="#111111"/>
<circle cx="528.88" cy="269" r="2.8" fill="#111111"/>
<circle cx="547.36" cy="267.7" r="2.8" fill="#111111"/>
<circle cx="565.84" cy="267.4" r="2.8" fill="#111111"/>
<circle cx="584.32" cy="266.7" r="2.8" fill="#111111"/>
<circle cx="602.8" cy="269.5" r="2.8" fill="#111111"/>
<polyline points="418,423.1 436.48,400.2 454.96,318.4 473.44,287.7 491.92,282.4 510.4,275 528.88,270.7 547.36,269 565.84,268 584.32,267.4 602.8,266.7" fill="none" stroke="#e8402e" stroke-width="1.0"/>
<path d="M418 415V431M415.25 415H420.75M415.25 431H420.75" stroke="#e8402e" stroke-width="1.2" fill="none"/>
<path d="M436.48 395V405M433.73 395H439.23M433.73 405H439.23" stroke="#e8402e" stroke-width="1.2" fill="none"/>
<path d="M602.8 262V271M600.05 262H605.55M600.05 271H605.55" stroke="#e8402e" stroke-width="1.2" fill="none"/>
<circle cx="418" cy="423.1" r="3" fill="#e8402e"/>
<circle cx="436.48" cy="400.2" r="3" fill="#e8402e"/>
<circle cx="454.96" cy="318.4" r="3" fill="#e8402e"/>
<circle cx="473.44" cy="287.7" r="3" fill="#e8402e"/>
<circle cx="491.92" cy="282.4" r="3" fill="#e8402e"/>
<circle cx="510.4" cy="275" r="3" fill="#e8402e"/>
<circle cx="528.88" cy="270.7" r="3" fill="#e8402e"/>
<circle cx="547.36" cy="269" r="3" fill="#e8402e"/>
<circle cx="565.84" cy="268" r="3" fill="#e8402e"/>
<circle cx="584.32" cy="267.4" r="3" fill="#e8402e"/>
<circle cx="602.8" cy="266.7" r="3" fill="#e8402e"/>
<polyline points="418,430.7 436.48,425 454.96,417.9 473.44,408.9 491.92,398.5 510.4,390.9 528.88,382.5 547.36,375.8 565.84,369.2 584.32,364.2 602.8,357.5" fill="none" stroke="#1c44dc" stroke-width="1.0"/>
<circle cx="418" cy="430.7" r="2.8" fill="#1c44dc"/>
<circle cx="436.48" cy="425" r="2.8" fill="#1c44dc"/>
<circle cx="454.96" cy="417.9" r="2.8" fill="#1c44dc"/>
<circle cx="473.44" cy="408.9" r="2.8" fill="#1c44dc"/>
<circle cx="491.92" cy="398.5" r="2.8" fill="#1c44dc"/>
<circle cx="510.4" cy="390.9" r="2.8" fill="#1c44dc"/>
<circle cx="528.88" cy="382.5" r="2.8" fill="#1c44dc"/>
<circle cx="547.36" cy="375.8" r="2.8" fill="#1c44dc"/>
<circle cx="565.84" cy="369.2" r="2.8" fill="#1c44dc"/>
<circle cx="584.32" cy="364.2" r="2.8" fill="#1c44dc"/>
<circle cx="602.8" cy="357.5" r="2.8" fill="#1c44dc"/>
<line x1="616.5" y1="267.7" x2="635.9" y2="267.7" stroke="#111111" stroke-width="1.2"/>
<circle cx="626.2" cy="267.7" r="2.8" fill="#111111"/>
<text x="640.8" y="272.8" font-size="11.5" font-weight="bold">WT JE2</text>
<text x="640.8" y="285.8" font-size="11.5" font-weight="bold">+ vehicle</text>
<line x1="616.5" y1="296.4" x2="635.9" y2="296.4" stroke="#e8402e" stroke-width="1.2"/>
<circle cx="626.2" cy="296.4" r="3" fill="#e8402e"/>
<text x="640.8" y="301.2" font-size="11.5" font-weight="bold">WT JE2</text>
<text x="640.8" y="314.2" font-size="11.5" font-weight="bold">+ uracil</text>
<text x="640.8" y="327.2" font-size="11.5" font-weight="bold">+ 4-TU</text>
<line x1="616.5" y1="356.8" x2="635.9" y2="356.8" stroke="#1c44dc" stroke-width="1.2"/>
<circle cx="626.2" cy="356.8" r="2.8" fill="#1c44dc"/>
<text x="640.8" y="361.6" font-size="11.5" font-weight="bold">WT JE2</text>
<text x="640.8" y="374.6" font-size="11.5" font-weight="bold">+ 4-TU</text>
<text x="1" y="520.7" font-size="14.5" font-weight="bold" font-style="normal" text-anchor="start" >E</text>
<ellipse cx="162.7" cy="656.6" rx="149.6" ry="146.7" fill="#fff966"/>
<text x="131.8" y="508.8" font-size="11.5" text-anchor="middle">uracil</text>
<polygon points="128.4,511 131.6,511 131.6,518.3 135.4,518.3 130,525.8 124.6,518.3 128.4,518.3" fill="#000"/>
<text x="132.2" y="535" font-size="11.5" text-anchor="middle">uracil</text>
<polygon points="128.4,538.3 131.6,538.3 131.6,546.1 135.4,546.1 130,553.6 124.6,546.1 128.4,546.1" fill="#000"/>
<text x="92" y="547.5" font-size="11.3" font-weight="bold" font-style="italic" text-anchor="start">pyrR</text>
<text x="142.9" y="547.5" font-size="11.3" font-weight="bold" font-style="italic" text-anchor="start">upp</text>
<text x="178.4" y="543.7" font-size="11.2" font-weight="bold" text-anchor="start">Salvage</text>
<text x="131" y="564.9" font-size="11.5" text-anchor="middle">uridine monophosphate</text>
<line x1="192" y1="560.3" x2="231" y2="560.3" stroke="#000" stroke-width="3.4"/>
<polygon points="206,560.3 197.5,555 200,560.3 197.5,565.6" fill="#000"/>
<polygon points="220.5,560.3 212,555 214.5,560.3 212,565.6" fill="#000"/>
<polygon points="234.7,560.3 226.2,555 228.7,560.3 226.2,565.6" fill="#000"/>
<text x="240" y="564.9" font-size="11.5" text-anchor="start">RNA</text>
<polygon points="128.4,583.5 131.6,583.5 131.6,577 135.4,577 130,569.5 124.6,577 128.4,577" fill="#000"/>
<text x="143.8" y="578.6" font-size="11.3" font-weight="bold" font-style="italic" text-anchor="start">pyrF</text>
<text x="132.5" y="596.1" font-size="11.5" text-anchor="middle">orotidine monophosphate</text>
<polygon points="128.4,613.5 131.6,613.5 131.6,607.5 135.4,607.5 130,600 124.6,607.5 128.4,607.5" fill="#000"/>
<text x="142.9" y="611.8" font-size="11.3" font-weight="bold" font-style="italic" text-anchor="start">pyrE</text>
<text x="133.4" y="626.6" font-size="11.5" text-anchor="middle">orotate</text>
<polygon points="128.4,646 131.6,646 131.6,639.5 135.4,639.5 130,632 124.6,639.5 128.4,639.5" fill="#000"/>
<text x="143.8" y="640" font-size="11.3" font-weight="bold" font-style="italic" text-anchor="start">pyrD</text>
<text x="191.8" y="643.8" font-size="11.3" font-weight="bold" font-style="italic" text-anchor="start">De novo</text>
<text x="188.8" y="656.8" font-size="11.2" font-weight="bold" text-anchor="start">synthesis</text>
<text x="134.9" y="656.9" font-size="11.5" text-anchor="middle">dihydroorotate</text>
<path d="M249.5 641.5V650.3M249.5 645.9H277" stroke="#000" stroke-width="2.6" fill="none"/>
<text x="281.4" y="650.4" font-size="11.3" font-weight="bold" font-style="italic" text-anchor="start">pyrR</text>
<polygon points="128.4,675.5 131.6,675.5 131.6,669.7 135.4,669.7 130,662.2 124.6,669.7 128.4,669.7" fill="#000"/>
<text x="144.4" y="671" font-size="11.3" font-weight="bold" font-style="italic" text-anchor="start">pyrC</text>
<text x="138.4" y="687.1" font-size="11.5" text-anchor="middle">N-carbamoyl L-aspartate</text>
<polygon points="128.4,706.3 131.6,706.3 131.6,699 135.4,699 130,691.5 124.6,699 128.4,699" fill="#000"/>
<text x="145.3" y="702.4" font-size="11.3" font-weight="bold" font-style="italic" text-anchor="start">pyrB</text>
<text x="135.8" y="720.2" font-size="11.5" text-anchor="middle">carbamoyl phosphate</text>
<polygon points="128.4,739.7 131.6,739.7 131.6,733 135.4,733 130,725.5 124.6,733 128.4,733" fill="#000"/>
<text x="144.4" y="735.9" font-size="11.3" font-weight="bold" font-style="italic" text-anchor="start">carAB</text>
<text x="84.5" y="751.6" font-size="11.5">glutamine, ATP, HCO<tspan font-size="8.3" dx="0.8" dy="3.8">3</tspan><tspan font-size="7.5" dx="0.8" dy="-8.6">-</tspan></text>
<line x1="418" y1="522.1" x2="418" y2="707.05" stroke="#000" stroke-width="1.7"/>
<line x1="414" y1="706.2" x2="602.65" y2="706.2" stroke="#000" stroke-width="1.7"/>
<line x1="410.5" y1="700.2" x2="418" y2="700.2" stroke="#000" stroke-width="1.7"/>
<line x1="413.8" y1="661.82" x2="418" y2="661.82" stroke="#000" stroke-width="1.7"/>
<line x1="413.8" y1="639.37" x2="418" y2="639.37" stroke="#000" stroke-width="1.7"/>
<line x1="413.8" y1="623.44" x2="418" y2="623.44" stroke="#000" stroke-width="1.7"/>
<line x1="413.8" y1="611.08" x2="418" y2="611.08" stroke="#000" stroke-width="1.7"/>
<line x1="413.8" y1="600.99" x2="418" y2="600.99" stroke="#000" stroke-width="1.7"/>
<line x1="413.8" y1="592.45" x2="418" y2="592.45" stroke="#000" stroke-width="1.7"/>
<line x1="413.8" y1="585.06" x2="418" y2="585.06" stroke="#000" stroke-width="1.7"/>
<line x1="413.8" y1="578.53" x2="418" y2="578.53" stroke="#000" stroke-width="1.7"/>
<line x1="410.5" y1="572.7" x2="418" y2="572.7" stroke="#000" stroke-width="1.7"/>
<line x1="413.8" y1="534.32" x2="418" y2="534.32" stroke="#000" stroke-width="1.7"/>
<line x1="418" y1="706.2" x2="418" y2="713.7" stroke="#000" stroke-width="1.7"/>
<text x="418" y="726.8" font-size="10.8" font-weight="bold" font-style="normal" text-anchor="middle" >0</text>
<line x1="454.76" y1="706.2" x2="454.76" y2="713.7" stroke="#000" stroke-width="1.7"/>
<text x="454.76" y="726.8" font-size="10.8" font-weight="bold" font-style="normal" text-anchor="middle" >4</text>
<line x1="491.52" y1="706.2" x2="491.52" y2="713.7" stroke="#000" stroke-width="1.7"/>
<text x="491.52" y="726.8" font-size="10.8" font-weight="bold" font-style="normal" text-anchor="middle" >8</text>
<line x1="528.28" y1="706.2" x2="528.28" y2="713.7" stroke="#000" stroke-width="1.7"/>
<text x="528.28" y="726.8" font-size="10.8" font-weight="bold" font-style="normal" text-anchor="middle" >12</text>
<line x1="565.04" y1="706.2" x2="565.04" y2="713.7" stroke="#000" stroke-width="1.7"/>
<text x="565.04" y="726.8" font-size="10.8" font-weight="bold" font-style="normal" text-anchor="middle" >16</text>
<line x1="601.8" y1="706.2" x2="601.8" y2="713.7" stroke="#000" stroke-width="1.7"/>
<text x="601.8" y="726.8" font-size="10.8" font-weight="bold" font-style="normal" text-anchor="middle" >20</text>
<text x="407.7" y="576.6" font-size="10.8" font-weight="bold" font-style="normal" text-anchor="end" >1</text>
<text x="407.7" y="704.1" font-size="10.8" font-weight="bold" font-style="normal" text-anchor="end" >0.1</text>
<text x="514.3" y="740.8" font-size="11.5" font-weight="bold" font-style="normal" text-anchor="middle" >Time (hrs.)</text>
<text transform="translate(396.4,630.7) rotate(-90)" font-size="11.8" font-weight="bold" text-anchor="middle">OD<tspan font-size="8.4" dy="3">600</tspan></text>
<text x="389.8" y="521" font-size="14.5" font-weight="bold" font-style="normal" text-anchor="start" >F</text>
<polyline points="418,695.7 436.38,687.5 454.76,679.2 473.14,674.1 491.52,667.6 509.9,659.7 528.28,653.9 546.66,648.2 565.04,642.4 583.42,637 601.8,631.6" fill="none" stroke="#111111" stroke-width="1.0"/>
<path d="M583.42 633V641M580.67 633H586.17M580.67 641H586.17" stroke="#111111" stroke-width="1.2" fill="none"/>
<path d="M601.8 625V638M599.05 625H604.55M599.05 638H604.55" stroke="#111111" stroke-width="1.2" fill="none"/>
<circle cx="418" cy="695.7" r="3.2" fill="none" stroke="#111111" stroke-width="1.9"/>
<circle cx="436.38" cy="687.5" r="3.2" fill="none" stroke="#111111" stroke-width="1.9"/>
<circle cx="454.76" cy="679.2" r="3.2" fill="none" stroke="#111111" stroke-width="1.9"/>
<circle cx="473.14" cy="674.1" r="3.2" fill="none" stroke="#111111" stroke-width="1.9"/>
<circle cx="491.52" cy="667.6" r="3.2" fill="none" stroke="#111111" stroke-width="1.9"/>
<circle cx="509.9" cy="659.7" r="3.2" fill="none" stroke="#111111" stroke-width="1.9"/>
<circle cx="528.28" cy="653.9" r="3.2" fill="none" stroke="#111111" stroke-width="1.9"/>
<circle cx="546.66" cy="648.2" r="3.2" fill="none" stroke="#111111" stroke-width="1.9"/>
<circle cx="565.04" cy="642.4" r="3.2" fill="none" stroke="#111111" stroke-width="1.9"/>
<circle cx="583.42" cy="637" r="3.2" fill="none" stroke="#111111" stroke-width="1.9"/>
<circle cx="601.8" cy="631.6" r="3.2" fill="none" stroke="#111111" stroke-width="1.9"/>
<polyline points="418,695 436.38,687.5 454.76,684.6 473.14,682 491.52,679.2 509.9,676.6 528.28,676.6 546.66,674.1 565.04,672.3 583.42,666.9 601.8,656.8" fill="none" stroke="#e8402e" stroke-width="1.0"/>
<path d="M473.14 679V685M470.39 679H475.89M470.39 685H475.89" stroke="#e8402e" stroke-width="1.2" fill="none"/>
<path d="M491.52 675V684M488.77 675H494.27M488.77 684H494.27" stroke="#e8402e" stroke-width="1.2" fill="none"/>
<path d="M509.9 672V681M507.15 672H512.65M507.15 681H512.65" stroke="#e8402e" stroke-width="1.2" fill="none"/>
<path d="M528.28 672V681M525.53 672H531.03M525.53 681H531.03" stroke="#e8402e" stroke-width="1.2" fill="none"/>
<path d="M546.66 670V678M543.91 670H549.41M543.91 678H549.41" stroke="#e8402e" stroke-width="1.2" fill="none"/>
<path d="M583.42 660V674M580.67 660H586.17M580.67 674H586.17" stroke="#e8402e" stroke-width="1.2" fill="none"/>
<path d="M601.8 645V670M599.05 645H604.55M599.05 670H604.55" stroke="#e8402e" stroke-width="1.2" fill="none"/>
<polygon points="418,691.5 421.5,695 418,698.5 414.5,695" fill="none" stroke="#e8402e" stroke-width="1.9"/>
<polygon points="436.38,684 439.88,687.5 436.38,691 432.88,687.5" fill="none" stroke="#e8402e" stroke-width="1.9"/>
<polygon points="454.76,681.1 458.26,684.6 454.76,688.1 451.26,684.6" fill="none" stroke="#e8402e" stroke-width="1.9"/>
<polygon points="473.14,678.5 476.64,682 473.14,685.5 469.64,682" fill="none" stroke="#e8402e" stroke-width="1.9"/>
<polygon points="491.52,675.7 495.02,679.2 491.52,682.7 488.02,679.2" fill="none" stroke="#e8402e" stroke-width="1.9"/>
<polygon points="509.9,673.1 513.4,676.6 509.9,680.1 506.4,676.6" fill="none" stroke="#e8402e" stroke-width="1.9"/>
<polygon points="528.28,673.1 531.78,676.6 528.28,680.1 524.78,676.6" fill="none" stroke="#e8402e" stroke-width="1.9"/>
<polygon points="546.66,670.6 550.16,674.1 546.66,677.6 543.16,674.1" fill="none" stroke="#e8402e" stroke-width="1.9"/>
<polygon points="565.04,668.8 568.54,672.3 565.04,675.8 561.54,672.3" fill="none" stroke="#e8402e" stroke-width="1.9"/>
<polygon points="583.42,663.4 586.92,666.9 583.42,670.4 579.92,666.9" fill="none" stroke="#e8402e" stroke-width="1.9"/>
<polygon points="601.8,653.3 605.3,656.8 601.8,660.3 598.3,656.8" fill="none" stroke="#e8402e" stroke-width="1.9"/>
<polyline points="418,695 436.38,653.2 454.76,596.6 473.14,554.8 491.52,539.7 509.9,536 528.28,534.2 546.66,533.5 565.04,533.2 583.42,532.1 601.8,531.4" fill="none" stroke="#1c44dc" stroke-width="1.0"/>
<rect x="414.8" y="691.8" width="6.4" height="6.4" fill="none" stroke="#1c44dc" stroke-width="1.8"/>
<rect x="433.18" y="650" width="6.4" height="6.4" fill="none" stroke="#1c44dc" stroke-width="1.8"/>
<rect x="451.56" y="593.4" width="6.4" height="6.4" fill="none" stroke="#1c44dc" stroke-width="1.8"/>
<rect x="469.94" y="551.6" width="6.4" height="6.4" fill="none" stroke="#1c44dc" stroke-width="1.8"/>
<rect x="488.32" y="536.5" width="6.4" height="6.4" fill="none" stroke="#1c44dc" stroke-width="1.8"/>
<rect x="506.7" y="532.8" width="6.4" height="6.4" fill="none" stroke="#1c44dc" stroke-width="1.8"/>
<rect x="525.08" y="531" width="6.4" height="6.4" fill="none" stroke="#1c44dc" stroke-width="1.8"/>
<rect x="543.46" y="530.3" width="6.4" height="6.4" fill="none" stroke="#1c44dc" stroke-width="1.8"/>
<rect x="561.84" y="530" width="6.4" height="6.4" fill="none" stroke="#1c44dc" stroke-width="1.8"/>
<rect x="580.22" y="528.9" width="6.4" height="6.4" fill="none" stroke="#1c44dc" stroke-width="1.8"/>
<rect x="598.6" y="528.2" width="6.4" height="6.4" fill="none" stroke="#1c44dc" stroke-width="1.8"/>
<polyline points="418,695.7 436.38,645.3 454.76,557 473.14,534.2 491.52,532.4 509.9,531.4 528.28,531 546.66,530.6 565.04,530.3 583.42,529.9 601.8,529.6" fill="none" stroke="#111111" stroke-width="1.0"/>
<circle cx="418" cy="695.7" r="2.3" fill="#111111"/>
<circle cx="436.38" cy="645.3" r="2.3" fill="#111111"/>
<circle cx="454.76" cy="557" r="2.3" fill="#111111"/>
<circle cx="473.14" cy="534.2" r="2.3" fill="#111111"/>
<circle cx="491.52" cy="532.4" r="2.3" fill="#111111"/>
<circle cx="509.9" cy="531.4" r="2.3" fill="#111111"/>
<circle cx="528.28" cy="531" r="2.3" fill="#111111"/>
<circle cx="546.66" cy="530.6" r="2.3" fill="#111111"/>
<circle cx="565.04" cy="530.3" r="2.3" fill="#111111"/>
<circle cx="583.42" cy="529.9" r="2.3" fill="#111111"/>
<circle cx="601.8" cy="529.6" r="2.3" fill="#111111"/>
<polyline points="418,693.6 436.38,644.2 454.76,559.5 473.14,533.5 491.52,532.4 509.9,531.7 528.28,531 546.66,530.6 565.04,530.3 583.42,529.9 601.8,529.6" fill="none" stroke="#e8402e" stroke-width="1.3"/>
<path d="M436.38 640V650M433.63 640H439.13M433.63 650H439.13" stroke="#e8402e" stroke-width="1.2" fill="none"/>
<path d="M454.76 551.7V573.3M452.01 551.7H457.51M452.01 573.3H457.51" stroke="#e8402e" stroke-width="1.2" fill="none"/>
<polygon points="418,691.1 420.5,693.6 418,696.1 415.5,693.6" fill="#e8402e"/>
<polygon points="436.38,641.7 438.88,644.2 436.38,646.7 433.88,644.2" fill="#e8402e"/>
<polygon points="454.76,557 457.26,559.5 454.76,562 452.26,559.5" fill="#e8402e"/>
<polygon points="473.14,531 475.64,533.5 473.14,536 470.64,533.5" fill="#e8402e"/>
<polygon points="491.52,529.9 494.02,532.4 491.52,534.9 489.02,532.4" fill="#e8402e"/>
<polygon points="509.9,529.2 512.4,531.7 509.9,534.2 507.4,531.7" fill="#e8402e"/>
<polygon points="528.28,528.5 530.78,531 528.28,533.5 525.78,531" fill="#e8402e"/>
<polygon points="546.66,528.1 549.16,530.6 546.66,533.1 544.16,530.6" fill="#e8402e"/>
<polygon points="565.04,527.8 567.54,530.3 565.04,532.8 562.54,530.3" fill="#e8402e"/>
<polygon points="583.42,527.4 585.92,529.9 583.42,532.4 580.92,529.9" fill="#e8402e"/>
<polygon points="601.8,527.1 604.3,529.6 601.8,532.1 599.3,529.6" fill="#e8402e"/>
<polyline points="418,695 436.38,647.8 454.76,557.7 473.14,534.2 491.52,532.4 509.9,531.7 528.28,531 546.66,530.6 565.04,530.3 583.42,529.9 601.8,529.6" fill="none" stroke="#1c44dc" stroke-width="1.3"/>
<rect x="415" y="692" width="6" height="6" fill="#1c44dc"/>
<rect x="433.38" y="644.8" width="6" height="6" fill="#1c44dc"/>
<rect x="451.76" y="554.7" width="6" height="6" fill="#1c44dc"/>
<rect x="470.14" y="531.2" width="6" height="6" fill="#1c44dc"/>
<rect x="488.52" y="529.4" width="6" height="6" fill="#1c44dc"/>
<rect x="506.9" y="528.7" width="6" height="6" fill="#1c44dc"/>
<rect x="525.28" y="528" width="6" height="6" fill="#1c44dc"/>
<rect x="543.66" y="527.6" width="6" height="6" fill="#1c44dc"/>
<rect x="562.04" y="527.3" width="6" height="6" fill="#1c44dc"/>
<rect x="580.42" y="526.9" width="6" height="6" fill="#1c44dc"/>
<rect x="598.8" y="526.6" width="6" height="6" fill="#1c44dc"/>
<line x1="613.6" y1="530.1" x2="633.3" y2="530.1" stroke="#111111" stroke-width="1.2"/>
<circle cx="623.45" cy="530.1" r="2.3" fill="#111111"/>
<text x="644.8" y="534.7" font-size="11.5" font-weight="bold">WT JE2-EV</text>
<text x="644.8" y="547.6" font-size="11.5" font-weight="bold">+ vehicle</text>
<line x1="613.6" y1="558.3" x2="633.3" y2="558.3" stroke="#e8402e" stroke-width="1.2"/>
<polygon points="623.45,555.8 625.95,558.3 623.45,560.8 620.95,558.3" fill="#e8402e"/>
<text x="644.8" y="563.4" font-size="11.5" font-weight="bold"><tspan font-style="italic">upp</tspan>::Tn JE2-p<tspan font-style="italic">upp</tspan></text>
<text x="644.8" y="576.3" font-size="11.5" font-weight="bold">+ vehicle</text>
<line x1="613.6" y1="587.6" x2="633.3" y2="587.6" stroke="#1c44dc" stroke-width="1.2"/>
<rect x="620.45" y="584.6" width="6" height="6" fill="#1c44dc"/>
<text x="644.8" y="592.2" font-size="11.5" font-weight="bold"><tspan font-style="italic">upp</tspan>::Tn JE2-EV</text>
<text x="644.8" y="605.1" font-size="11.5" font-weight="bold">+ vehicle</text>
<line x1="613.6" y1="614.4" x2="633.3" y2="614.4" stroke="#1c44dc" stroke-width="1.2"/>
<rect x="620.25" y="611.2" width="6.4" height="6.4" fill="none" stroke="#1c44dc" stroke-width="1.8"/>
<text x="644.8" y="618.7" font-size="11.5" font-weight="bold"><tspan font-style="italic">upp</tspan>::Tn JE2-EV</text>
<text x="644.8" y="631.6" font-size="11.5" font-weight="bold">+ 4-TU</text>
<line x1="613.6" y1="640.9" x2="633.3" y2="640.9" stroke="#111111" stroke-width="1.2"/>
<circle cx="623.45" cy="640.9" r="3.2" fill="none" stroke="#111111" stroke-width="1.9"/>
<text x="644.8" y="645.5" font-size="11.5" font-weight="bold">WT JE2-EV</text>
<text x="644.8" y="658.4" font-size="11.5" font-weight="bold">+ 4-TU</text>
<line x1="613.6" y1="666.9" x2="633.3" y2="666.9" stroke="#e8402e" stroke-width="1.2"/>
<polygon points="623.45,663.4 626.95,666.9 623.45,670.4 619.95,666.9" fill="none" stroke="#e8402e" stroke-width="1.9"/>
<text x="644.8" y="671.5" font-size="11.5" font-weight="bold"><tspan font-style="italic">upp</tspan>::Tn JE2-p<tspan font-style="italic">upp</tspan></text>
<text x="644.8" y="684.4" font-size="11.5" font-weight="bold">+ 4-TU</text>
</svg></body></html>
